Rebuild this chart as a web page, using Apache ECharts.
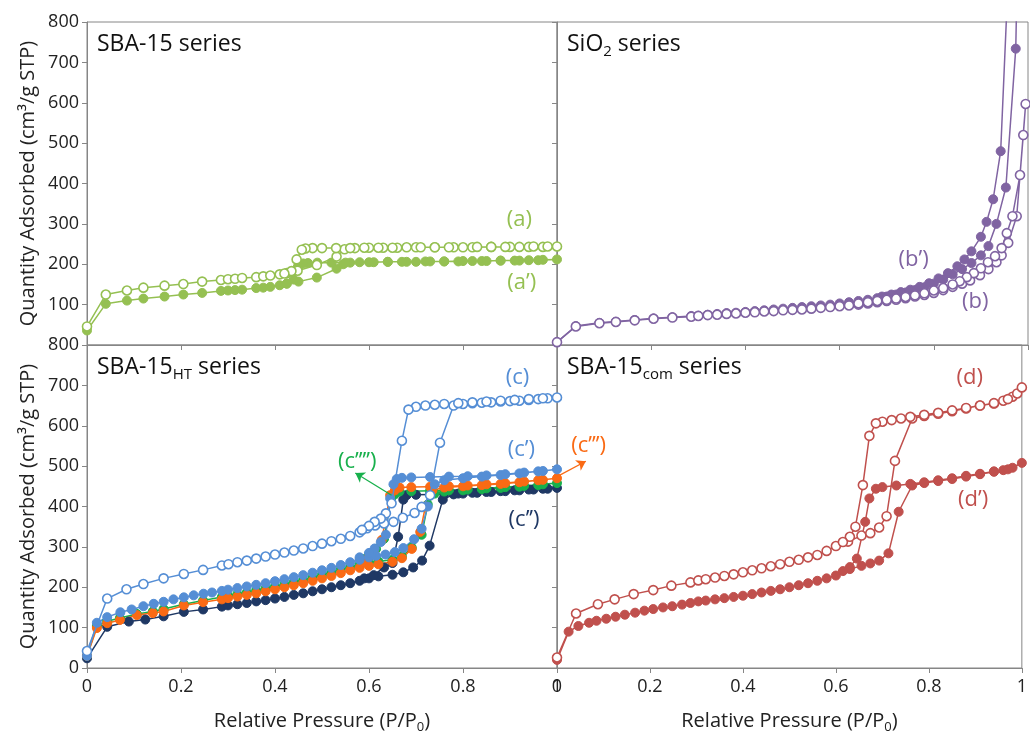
<!DOCTYPE html>
<html>
<head>
<meta charset="utf-8">
<script src="https://cdn.jsdelivr.net/npm/echarts@6/dist/echarts.min.js"></script>
<style>
html,body{margin:0;padding:0;background:#fff;}
#chart{width:1030px;height:735px;}
</style>
</head>
<body>
<div id="chart"></div>
<script>
// ---------- data: [relative pressure, quantity adsorbed] ----------
// SBA-15 series
const aAds = [[0,46],[0.04,125],[0.085,135],[0.12,142],[0.165,147],[0.205,151],[0.245,157],[0.285,161],[0.3,163],[0.315,164],[0.33,166],[0.36,168],[0.375,170],[0.39,172],[0.41,175],[0.425,178],[0.448,184],[0.489,198],[0.531,219],[0.548,237],[0.57,240],[0.6,241],[0.63,241],[0.66,241],[0.7,242],[0.74,242],[0.78,242],[0.82,242],[0.86,243],[0.9,243],[0.94,243],[0.97,243],[1.0,244]];
const aDes = [[0.98,244],[0.95,244],[0.92,243],[0.89,243],[0.86,243],[0.83,243],[0.8,242],[0.77,242],[0.74,242],[0.71,242],[0.68,242],[0.65,241],[0.62,241],[0.59,241],[0.56,240],[0.53,240],[0.5,240],[0.48,240],[0.465,239],[0.457,236],[0.446,212],[0.435,183],[0.42,177]];
const a1Ads = [[0,36],[0.04,102],[0.085,110],[0.12,115],[0.165,120],[0.205,125],[0.245,129],[0.285,134],[0.3,135],[0.315,136],[0.33,137],[0.36,141],[0.375,142],[0.39,144],[0.41,148],[0.425,152],[0.45,157],[0.489,167],[0.531,189],[0.545,200],[0.56,204],[0.6,205],[0.64,206],[0.68,206],[0.72,207],[0.76,207],[0.8,208],[0.84,208],[0.88,209],[0.92,209],[0.96,210],[1.0,212]];
const a1Des = [[0.97,211],[0.94,210],[0.91,209],[0.88,209],[0.85,208],[0.82,208],[0.79,207],[0.76,207],[0.73,207],[0.7,206],[0.67,206],[0.64,206],[0.61,205],[0.58,205],[0.55,204],[0.52,204],[0.49,204],[0.47,203],[0.46,202],[0.45,195],[0.44,162],[0.425,152]];
// SiO2 series
const bAds = [[0,7],[0.04,46],[0.09,54],[0.125,57],[0.165,61],[0.205,65],[0.245,68],[0.285,70],[0.3,72],[0.32,74],[0.34,75],[0.36,77],[0.38,78],[0.4,80],[0.42,81],[0.44,83],[0.46,84],[0.48,86],[0.5,87],[0.52,88],[0.54,90],[0.56,92],[0.58,94],[0.6,96],[0.62,98],[0.64,100],[0.66,103],[0.68,106],[0.7,109],[0.72,112],[0.74,116],[0.76,120],[0.78,124],[0.8,129],[0.82,136],[0.84,144],[0.86,152],[0.877,160],[0.898,173],[0.916,188],[0.933,205],[0.944,222],[0.958,253],[0.976,319],[0.99,520],[0.995,597]];
const bDes = [[0.983,421],[0.967,319],[0.955,277],[0.944,240],[0.93,220],[0.915,205],[0.9,190],[0.885,178],[0.87,168],[0.855,158],[0.84,150],[0.82,141],[0.8,135],[0.78,128],[0.76,123],[0.74,119],[0.72,115],[0.7,112],[0.68,109],[0.66,106],[0.64,103]];
const b1Ads = [[0,7],[0.04,47],[0.09,55],[0.125,58],[0.165,62],[0.205,66],[0.245,69],[0.285,72],[0.3,73],[0.32,75],[0.34,77],[0.36,79],[0.38,80],[0.4,82],[0.42,84],[0.44,86],[0.46,88],[0.48,90],[0.5,92],[0.52,94],[0.54,96],[0.56,98],[0.58,100],[0.6,103],[0.62,106],[0.64,109],[0.66,112],[0.68,116],[0.7,120],[0.72,125],[0.74,130],[0.76,136],[0.78,143],[0.8,152],[0.82,162],[0.84,175],[0.86,188],[0.88,203],[0.9,222],[0.916,245],[0.933,300],[0.953,390],[0.974,734],[0.985,1400]];
const b1Des = [[0.965,1100],[0.942,480],[0.926,361],[0.912,305],[0.9,268],[0.88,232],[0.865,212],[0.85,195],[0.83,178],[0.81,165],[0.79,153],[0.77,144],[0.75,137],[0.73,131],[0.71,125],[0.69,120]];
// SBA-15HT series
const cAds = [[0,42],[0.043,172],[0.084,195],[0.12,208],[0.163,222],[0.206,233],[0.247,243],[0.287,254],[0.301,257],[0.32,262],[0.34,266],[0.36,271],[0.38,276],[0.4,281],[0.42,286],[0.44,291],[0.46,296],[0.48,302],[0.5,308],[0.52,314],[0.54,320],[0.56,327],[0.58,336],[0.596,346],[0.613,353],[0.632,358],[0.652,362],[0.672,372],[0.697,384],[0.712,399],[0.73,428],[0.751,558],[0.78,650],[0.8,654],[0.82,656],[0.84,657],[0.86,658],[0.88,660],[0.9,661],[0.92,662],[0.94,664],[0.96,666],[0.98,668],[1.0,670]];
const cDes = [[0.97,668],[0.94,666],[0.91,664],[0.88,662],[0.85,660],[0.82,658],[0.79,656],[0.76,654],[0.74,652],[0.72,650],[0.7,647],[0.684,640],[0.67,563],[0.648,408],[0.636,383],[0.625,370],[0.612,362],[0.6,352],[0.585,342]];
const c1Ads = [[0,30],[0.021,112],[0.043,126],[0.071,138],[0.095,145],[0.12,153],[0.142,159],[0.163,164],[0.184,170],[0.206,175],[0.227,180],[0.248,184],[0.266,187],[0.287,191],[0.3,194],[0.32,198],[0.34,202],[0.36,206],[0.38,210],[0.4,215],[0.42,220],[0.44,225],[0.46,230],[0.48,236],[0.5,242],[0.52,248],[0.54,255],[0.56,262],[0.58,268],[0.6,274],[0.615,278],[0.635,281],[0.655,287],[0.673,297],[0.696,319],[0.712,345],[0.725,400],[0.74,455],[0.76,465],[0.8,470],[0.84,474],[0.88,478],[0.92,482],[0.96,487],[1.0,492]];
const c1Des = [[0.97,488],[0.93,484],[0.89,480],[0.85,477],[0.81,475],[0.77,474],[0.73,473],[0.69,472],[0.67,471],[0.659,468],[0.652,455],[0.645,420],[0.636,330],[0.625,312],[0.612,296],[0.6,285],[0.58,274]];
const c2Ads = [[0,24],[0.043,102],[0.089,115],[0.124,120],[0.163,128],[0.206,139],[0.247,145],[0.287,152],[0.3,155],[0.32,158],[0.34,161],[0.36,165],[0.38,168],[0.4,172],[0.42,176],[0.44,181],[0.46,185],[0.48,190],[0.5,195],[0.52,200],[0.54,205],[0.56,210],[0.58,216],[0.6,222],[0.62,227],[0.65,231],[0.673,237],[0.694,249],[0.713,266],[0.729,303],[0.757,417],[0.78,430],[0.8,432],[0.83,434],[0.86,436],[0.89,438],[0.92,440],[0.95,442],[0.98,444],[1.0,446]];
const c2Des = [[0.97,444],[0.94,442],[0.91,440],[0.88,438],[0.85,436],[0.82,434],[0.79,432],[0.76,431],[0.73,430],[0.7,429],[0.68,428],[0.673,417],[0.662,325],[0.65,260],[0.632,249],[0.61,230],[0.59,222]];
const c3Ads = [[0,30],[0.021,99],[0.043,111],[0.07,119],[0.106,131],[0.14,136],[0.163,140],[0.206,155],[0.247,163],[0.287,170],[0.3,173],[0.32,177],[0.34,181],[0.36,185],[0.38,190],[0.4,195],[0.42,200],[0.44,205],[0.46,210],[0.48,216],[0.5,222],[0.52,228],[0.54,235],[0.56,242],[0.58,248],[0.6,253],[0.62,257],[0.65,263],[0.67,272],[0.691,295],[0.709,337],[0.72,400],[0.735,440],[0.76,447],[0.8,450],[0.84,453],[0.88,456],[0.92,460],[0.96,465],[1.0,470]];
const c3Des = [[0.97,466],[0.93,462],[0.89,458],[0.85,455],[0.81,452],[0.77,450],[0.73,449],[0.69,448],[0.665,447],[0.655,440],[0.645,428],[0.627,317],[0.61,288],[0.6,275],[0.585,262]];
const c4Ads = [[0,30],[0.021,104],[0.043,116],[0.07,124],[0.106,134],[0.14,140],[0.163,146],[0.206,158],[0.247,167],[0.287,176],[0.3,179],[0.32,183],[0.34,187],[0.36,192],[0.38,197],[0.4,202],[0.42,207],[0.44,213],[0.46,218],[0.48,224],[0.5,231],[0.52,237],[0.54,244],[0.56,250],[0.58,256],[0.6,261],[0.62,264],[0.65,268],[0.67,276],[0.691,298],[0.712,330],[0.725,405],[0.74,432],[0.76,437],[0.8,440],[0.84,443],[0.88,446],[0.92,449],[0.96,453],[1.0,458]];
const c4Des = [[0.97,455],[0.93,451],[0.89,448],[0.85,445],[0.81,442],[0.77,440],[0.73,439],[0.69,438],[0.665,437],[0.655,430],[0.647,420],[0.632,320],[0.615,295],[0.6,282],[0.585,270]];
// SBA-15com series
const dAds = [[0,26],[0.041,135],[0.088,158],[0.124,170],[0.165,183],[0.207,193],[0.246,204],[0.287,212],[0.304,217],[0.32,220],[0.34,224],[0.36,228],[0.38,232],[0.4,237],[0.42,242],[0.44,247],[0.46,252],[0.48,257],[0.5,263],[0.52,268],[0.54,274],[0.56,280],[0.58,290],[0.6,302],[0.626,313],[0.655,328],[0.674,334],[0.693,348],[0.709,376],[0.727,513],[0.764,618],[0.79,624],[0.82,630],[0.85,636],[0.88,643],[0.91,650],[0.94,655],[0.96,662],[0.98,672],[0.99,680],[1.0,695]];
const dDes = [[0.97,666],[0.94,656],[0.91,650],[0.88,644],[0.85,638],[0.82,632],[0.79,627],[0.76,622],[0.74,618],[0.72,614],[0.7,610],[0.686,606],[0.672,575],[0.658,453],[0.642,350],[0.63,325],[0.615,312]];
const d1Ads = [[0,20],[0.025,90],[0.046,104],[0.069,112],[0.085,117],[0.106,122],[0.126,127],[0.146,132],[0.168,137],[0.188,142],[0.207,146],[0.228,150],[0.248,153],[0.269,157],[0.287,161],[0.304,165],[0.32,167],[0.34,170],[0.36,173],[0.38,176],[0.4,179],[0.42,183],[0.44,187],[0.46,191],[0.48,195],[0.5,200],[0.52,205],[0.54,210],[0.56,216],[0.58,222],[0.6,229],[0.63,245],[0.655,253],[0.674,259],[0.693,266],[0.713,284],[0.735,387],[0.764,452],[0.79,458],[0.82,463],[0.85,468],[0.88,474],[0.91,480],[0.94,486],[0.96,490],[0.98,496],[1.0,508]];
const d1Des = [[0.97,492],[0.94,487],[0.91,481],[0.88,476],[0.85,470],[0.82,465],[0.79,460],[0.76,456],[0.73,452],[0.7,448],[0.686,444],[0.672,420],[0.663,362],[0.645,271],[0.63,250],[0.615,240]];

const xTicks = [0, 0.2, 0.4, 0.6, 0.8, 1];
const yTicks = [0, 100, 200, 300, 400, 500, 600, 700, 800];

// ---------- styling ----------
const COL = {
  green: '#95c052', purple: '#8064a2', blue: '#558ed5', navy: '#1f3864',
  orange: '#fa6a14', green2: '#18b04c', red: '#c0504d'
};
const FONT = '"Open Sans", "DejaVu Sans", sans-serif';
const AX = '#868686';

const grids = [
  {left: 87, top: 22, width: 470, height: 323},
  {left: 557, top: 22, width: 471, height: 323},
  {left: 87, top: 345, width: 470, height: 323},
  {left: 557, top: 345, width: 471, height: 323}
].map(g => Object.assign({show: true, borderColor: AX, borderWidth: 1, containLabel: false}, g));

function xAxis(i) {
  const bottom = i >= 2;
  return {
    type: 'value', gridIndex: i, min: xTicks[0], max: xTicks[xTicks.length - 1], interval: 0.2,
    splitLine: {show: false},
    axisLine: {show: true, lineStyle: {color: AX, width: 1}},
    axisTick: {show: true, length: 5, lineStyle: {color: AX}},
    axisLabel: {show: bottom, color: '#222', fontSize: 18, fontFamily: FONT, margin: 10},
    name: bottom ? 'Relative Pressure (P/P{sub|0})' : '',
    nameLocation: 'middle', nameGap: 40,
    nameTextStyle: {color: '#222', fontSize: 20, fontFamily: FONT, lineHeight: 26,
      rich: {sub: {fontSize: 13, fontFamily: FONT, color: '#222', verticalAlign: 'bottom', lineHeight: 13}}}
  };
}
function yAxis(i) {
  const left = (i % 2) === 0;
  return {
    type: 'value', gridIndex: i, min: yTicks[0], max: yTicks[yTicks.length - 1], interval: 100,
    splitLine: {show: false},
    axisLine: {show: true, lineStyle: {color: AX, width: 1}},
    axisTick: {show: true, length: 5, lineStyle: {color: AX}},
    axisLabel: {show: left, color: '#222', fontSize: 18, fontFamily: FONT, margin: 8,
      showMinLabel: i !== 0},
    name: left ? 'Quantity Adsorbed (cm³/g STP)' : '',
    nameLocation: 'middle', nameGap: 49,
    nameTextStyle: {color: '#222', fontSize: 20, fontFamily: FONT}
  };
}

function iso(name, grid, ads, des, color, open, z) {
  return {
    type: 'line', name: name, xAxisIndex: grid, yAxisIndex: grid,
    data: ads.concat(des),
    symbol: 'circle', symbolSize: 9, showAllSymbol: true, clip: true, z: z,
    lineStyle: {color: color, width: 1.5},
    itemStyle: open ? {color: '#ffffff', borderColor: color, borderWidth: 1.6}
                    : {color: color, borderColor: color, borderWidth: 1},
    emphasis: {disabled: true}
  };
}

const series = [
  iso('a’', 0, a1Ads, a1Des, COL.green, false, 2),
  iso('a', 0, aAds, aDes, COL.green, true, 3),
  iso('b’', 1, b1Ads, b1Des, COL.purple, false, 2),
  iso('b', 1, bAds, bDes, COL.purple, true, 3),
  iso('c’’', 2, c2Ads, c2Des, COL.navy, false, 2),
  iso('c’’’’', 2, c4Ads, c4Des, COL.green2, false, 2),
  iso('c’’’', 2, c3Ads, c3Des, COL.orange, false, 2),
  iso('c’', 2, c1Ads, c1Des, COL.blue, false, 2),
  iso('c', 2, cAds, cDes, COL.blue, true, 3),
  iso('d’', 3, d1Ads, d1Des, COL.red, false, 2),
  iso('d', 3, dAds, dDes, COL.red, true, 3)
];

// arrows pointing from curves to labels
series[5].markLine = {silent: true, symbol: ['none', 'arrow'], symbolSize: 9, label: {show: false},
  lineStyle: {color: COL.green2, width: 1.3, type: 'solid'},
  data: [[{coord: [0.648, 428]}, {coord: [0.571, 483]}]]};
series[10].markLine = {silent: true, symbol: ['none', 'arrow'], symbolSize: 9, label: {show: false},
  lineStyle: {color: COL.orange, width: 1.3, type: 'solid'},
  data: [[{coord: [0.0, 474]}, {coord: [0.062, 512]}]]};

const chart = echarts.init(document.getElementById('chart'), null, {renderer: 'canvas'});
chart.setOption({
  animation: false,
  backgroundColor: '#ffffff',
  grid: grids,
  xAxis: [0, 1, 2, 3].map(xAxis),
  yAxis: [0, 1, 2, 3].map(yAxis),
  series: series
});

// panel titles and curve labels
const subRich = {
  m: {fontSize: 23, fontFamily: FONT, fill: '#111', lineHeight: 30},
  s: {fontSize: 15, fontFamily: FONT, fill: '#111', lineHeight: 15, verticalAlign: 'bottom'}
};
const titles = [
  {g: 0, t: '{m|SBA-15 series}'},
  {g: 1, t: '{m|SiO}{s|2}{m| series}'},
  {g: 2, t: '{m|SBA-15}{s|HT}{m| series}'},
  {g: 3, t: '{m|SBA-15}{s|com}{m| series}'}
];
const curveLabels = [
  {g: 0, x: 0.92, y: 311, t: '(a)', c: COL.green},
  {g: 0, x: 0.925, y: 154, t: '(a’)', c: COL.green},
  {g: 1, x: 0.757, y: 212, t: '(b’)', c: COL.purple},
  {g: 1, x: 0.888, y: 108, t: '(b)', c: COL.purple},
  {g: 2, x: 0.916, y: 720, t: '(c)', c: COL.blue},
  {g: 2, x: 0.924, y: 541, t: '(c’)', c: COL.blue},
  {g: 2, x: 0.93, y: 367, t: '(c’’)', c: COL.navy},
  {g: 2, x: 0.575, y: 512, t: '(c’’’’)', c: COL.green2},
  {g: 3, x: 0.068, y: 550, t: '(c’’’)', c: COL.orange},
  {g: 3, x: 0.888, y: 720, t: '(d)', c: COL.red},
  {g: 3, x: 0.895, y: 417, t: '(d’)', c: COL.red}
];
const graphic = [];
titles.forEach(o => {
  const p = chart.convertToPixel({xAxisIndex: o.g, yAxisIndex: o.g}, [0, 800]);
  graphic.push({type: 'text', x: p[0] + 10, y: p[1] + 22, silent: true,
    style: {text: o.t, rich: subRich, fill: '#111', font: '23px ' + FONT, verticalAlign: 'middle', align: 'left'}});
});
curveLabels.forEach(o => {
  const p = chart.convertToPixel({xAxisIndex: o.g, yAxisIndex: o.g}, [o.x, o.y]);
  graphic.push({type: 'text', x: p[0], y: p[1], silent: true, z: 10,
    style: {text: o.t, fill: o.c, font: '22px ' + FONT, align: 'center', verticalAlign: 'middle'}});
});
chart.setOption({graphic: graphic});
</script>
</body>
</html>
